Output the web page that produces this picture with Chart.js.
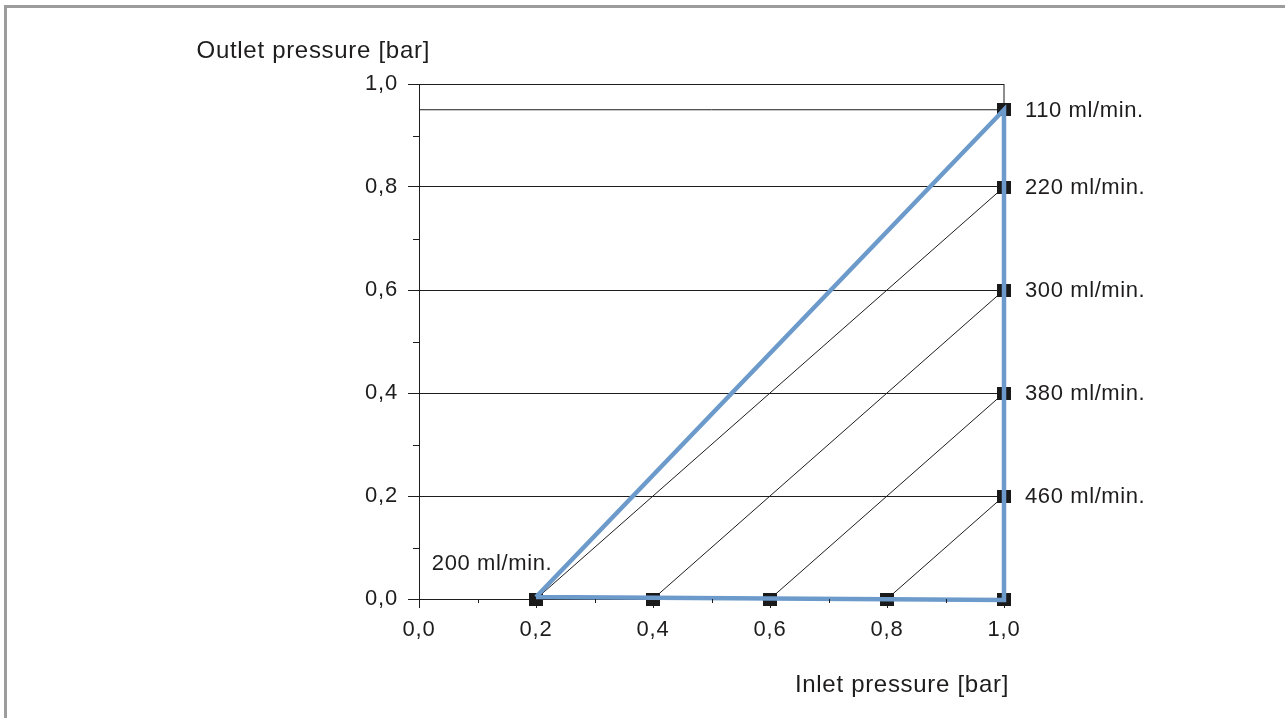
<!DOCTYPE html>
<html>
<head>
<meta charset="utf-8">
<script src="https://cdn.jsdelivr.net/npm/chart.js@4.4.1/dist/chart.umd.min.js"></script>
<style>
  html, body { margin: 0; padding: 0; background: #fff; }
  #wrap { position: relative; width: 1285px; height: 718px; overflow: hidden; }
  #frame { position: absolute; left: 4px; top: 5px; right: -10px; bottom: -10px;
           border-top: 3px solid #9c9c9c; border-left: 3px solid #9c9c9c; pointer-events: none; }
</style>
</head>
<body>
<div id="wrap">
  <canvas id="chart" width="1285" height="718"></canvas>
  <div id="frame"></div>
</div>
<script>
// envelope (blue): start of regulation, full inlet, back along the bottom
const envelopeX = [0.2, 1.0, 1.0, 0.2]
const envelopeY = [0.004, 0.95, -0.002, 0.004]

// thin characteristic lines: start on inlet axis, end at inlet 1,0
const lineStartX = [0.2, 0.4, 0.6, 0.8]
const lineEndY = [0.8, 0.6, 0.4, 0.2]

// outlet pressure at inlet 1,0 and its flow
const outletValues = [0.95, 0.8, 0.6, 0.4, 0.2]
const flowLabels = ['110 ml/min.', '220 ml/min.', '300 ml/min.', '380 ml/min.', '460 ml/min.']

// reference line at 0,95
const refX = [0, 1.0, 1.0]
const refY = [0.95, 0.95, 1.0]

const cornerLabel = '200 ml/min.'
const cornerAt = [0.022, 0.068]

const xTicks = [0, 0.2, 0.4, 0.6, 0.8, 1.0]
const yTicks = [0, 0.2, 0.4, 0.6, 0.8, 1.0]
const minorTicks = [0.1, 0.3, 0.5, 0.7, 0.9]

const xTitle = 'Inlet pressure [bar]'
const yTitle = 'Outlet pressure [bar]'

const ink = '#1e1c1d'
const blue = '#6c9bcb'
const font = '"Liberation Sans", Arial, Helvetica, sans-serif'

function pts(xs, ys){
    return xs.map((x, i) => ({x: x, y: ys[i]}))
}

// marker: small black rectangle
const marker = document.createElement('canvas')
marker.width = 14
marker.height = 13
const mctx = marker.getContext('2d')
mctx.fillStyle = '#1a1a1a'
mctx.fillRect(0, 0, 14, 13)

const markerPts = outletValues.concat([0]).map(y => ({x: 1.0, y: y}))
    .concat(lineStartX.map(x => ({x: x, y: 0})))

const datasets = [{
    data: pts(envelopeX, envelopeY),
    showLine: true, borderColor: blue, borderWidth: 4.5, pointRadius: 0,
    borderJoinStyle: 'miter', clip: false, order: 0
}, {
    data: markerPts,
    showLine: false, pointStyle: marker, pointRadius: 7, clip: false, order: 1
}, {
    data: pts(refX, refY),
    showLine: true, borderColor: ink, borderWidth: 1, pointRadius: 0, clip: false, order: 2
}]
lineStartX.forEach((x, i) => {
    datasets.push({
        data: [{x: x, y: 0}, {x: 1.0, y: lineEndY[i]}],
        showLine: true, borderColor: ink, borderWidth: 1, pointRadius: 0, clip: false, order: 3
    })
})

const comma = v => Number(v).toFixed(1).replace('.', ',')

const extras = {
    id: 'extras',
    beforeDraw(chart){
        chart.ctx.letterSpacing = '0.8px'
    },
    afterDraw(chart){
        const ctx = chart.ctx
        const xs = chart.scales.x, ys = chart.scales.y
        const area = chart.chartArea
        ctx.save()
        ctx.strokeStyle = ink
        ctx.lineWidth = 1
        // minor ticks
        minorTicks.forEach(v => {
            const py = Math.round(ys.getPixelForValue(v)) + 0.5
            ctx.beginPath(); ctx.moveTo(area.left - 6, py); ctx.lineTo(area.left, py); ctx.stroke()
            const px = Math.round(xs.getPixelForValue(v)) + 0.5
            ctx.beginPath(); ctx.moveTo(px, area.bottom); ctx.lineTo(px, area.bottom + 4); ctx.stroke()
        })
        ctx.fillStyle = ink
        ctx.textBaseline = 'middle'
        ctx.letterSpacing = '0.6px'
        ctx.font = '22px ' + font
        ctx.textAlign = 'left'
        outletValues.forEach((v, i) => {
            ctx.fillText(flowLabels[i], xs.getPixelForValue(1.0) + 21, ys.getPixelForValue(v) + 1)
        })
        ctx.fillText(cornerLabel, xs.getPixelForValue(cornerAt[0]), ys.getPixelForValue(cornerAt[1]))
        // axis titles
        ctx.letterSpacing = '0.7px'
        ctx.font = '24px ' + font
        ctx.textAlign = 'right'
        ctx.fillText(yTitle, 430, 51)
        ctx.fillText(xTitle, 1009, 685)
        ctx.restore()
    }
}

new Chart(document.getElementById('chart'), {
    type: 'scatter',
    data: {datasets: datasets},
    options: {
        responsive: false,
        devicePixelRatio: 1,
        animation: false,
        events: [],
        layout: {padding: {left: 0, top: 84, right: 281, bottom: 0}},
        plugins: {legend: {display: false}, tooltip: {enabled: false}},
        scales: {
            x: {
                type: 'linear', min: 0, max: 1,
                afterFit(scale){ scale.height = 119 },
                afterBuildTicks(scale){ scale.ticks = xTicks.map(v => ({value: v})) },
                ticks: {callback: comma, color: ink, padding: 9, maxRotation: 0,
                        font: {family: font, size: 22}},
                grid: {drawOnChartArea: false, drawTicks: true, tickLength: 9, color: ink, lineWidth: 1},
                border: {display: true, color: ink, width: 1}
            },
            y: {
                type: 'linear', min: 0, max: 1,
                afterFit(scale){ scale.width = 419 },
                afterBuildTicks(scale){ scale.ticks = yTicks.map(v => ({value: v})) },
                ticks: {callback: comma, color: ink, padding: 10,
                        font: {family: font, size: 22}},
                grid: {drawOnChartArea: true, drawTicks: true, tickLength: 11, color: ink, lineWidth: 1},
                border: {display: true, color: ink, width: 1}
            }
        }
    },
    plugins: [extras]
})
</script>
</body>
</html>
